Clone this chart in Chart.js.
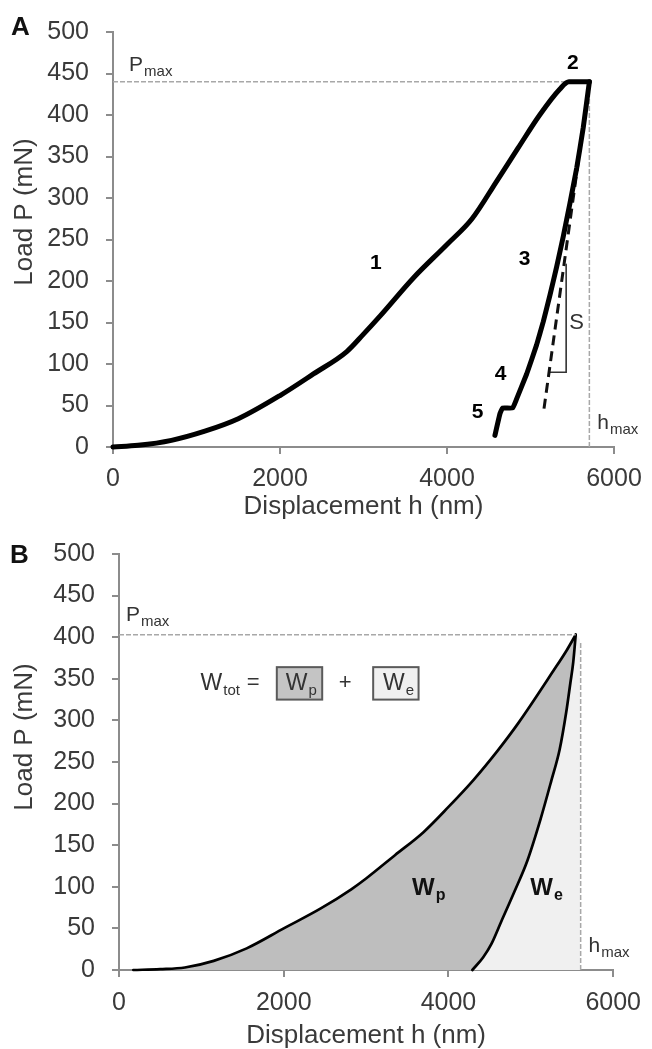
<!DOCTYPE html>
<html>
<head>
<meta charset="utf-8">
<script src="https://cdn.jsdelivr.net/npm/chart.js@4.4.1/dist/chart.umd.min.js"></script>
<style>
html,body{margin:0;padding:0;background:#fff;overflow:hidden;width:652px;height:1049px;}
#wa{position:absolute;left:0;top:0;width:652px;height:530px;}
#wb{position:absolute;left:0;top:520px;width:652px;height:532px;}
</style>
</head>
<body>
<div id="wa"><canvas id="ca"></canvas></div>
<div id="wb"><canvas id="cb"></canvas></div>
<script>
// ---------- DATA ----------
// Panel A: loading / hold / unloading curve
const loadH_A   = [0, 300, 700, 1100, 1500, 2000, 2400, 2800, 3000, 3200, 3600, 4000, 4300, 4600, 4850, 5110, 5350, 5460, 5705];
const loadP_A   = [0, 2, 8, 19, 34, 62, 88, 115, 136, 158, 204, 244, 275, 321, 360, 400, 431, 440, 440];
const unloadH_A = [5705, 5632, 5553, 5473, 5393, 5313, 5233, 5153, 5073, 4954, 4834, 4786, 4666, 4634, 4574];
const unloadP_A = [440, 385, 336, 294, 254, 217, 183, 151, 123, 88, 58, 47, 47, 40, 14];
// tangent (stiffness S) and slope bracket
const tangentH_A = [5705, 5160];
const tangentP_A = [440, 45];
const bracketH_A = [5427, 5427, 5235];
const bracketP_A = [220, 90, 90];
const pmaxA = 440;
const hmaxA = 5705;

// Panel B: loading / unloading curves
const loadH_B   = [174, 500, 800, 1150, 1550, 2000, 2450, 2820, 3000, 3350, 3700, 4000, 4300, 4600, 4850, 5270, 5440, 5545];
const loadP_B   = [0, 1, 3, 11, 26, 50, 74, 97, 110, 138, 166, 196, 228, 264, 297, 359, 385, 403];
const unloadH_B = [5545, 5515, 5480, 5430, 5350, 5250, 5120, 4960, 4800, 4640, 4520, 4420, 4290];
const unloadP_B = [403, 370, 345, 310, 265, 228, 182, 132, 94, 58, 31, 15, 0];
const pmaxB = 403;
const hmaxB = 5605;

// axes
const xTicks = [0, 2000, 4000, 6000];
const yTicks = [0, 50, 100, 150, 200, 250, 300, 350, 400, 450, 500];
const xTitle = 'Displacement h (nm)';
const yTitle = 'Load P (mN)';

// ---------- helpers ----------
const FONT = '"Liberation Sans", Arial, Helvetica, sans-serif';
const TXT = '#3a3a3a';
const AX = '#8c8c8c';
const DASH = '#a8a8a8';
const pts = (hs, ps) => hs.map((h, i) => ({x: h, y: ps[i]}));
const ptsAsc = (hs, ps) => pts(hs, ps).sort((a, b) => a.x - b.x);

const notesPlugin = {
  id: 'notes',
  afterDraw(chart, args, o) {
    const ctx = chart.ctx, xs = chart.scales.x, ys = chart.scales.y;
    const X = v => xs.getPixelForValue(v), Y = v => ys.getPixelForValue(v);
    ctx.save();
    (o.boxes || []).forEach(b => {
      const x1 = X(b.x0), x2 = X(b.x1), y1 = Y(b.y1), y2 = Y(b.y0);
      ctx.fillStyle = b.fill;
      ctx.fillRect(x1, y1, x2 - x1, y2 - y1);
      ctx.strokeStyle = '#5a5a5a';
      ctx.lineWidth = 2;
      ctx.strokeRect(x1, y1, x2 - x1, y2 - y1);
    });
    (o.texts || []).forEach(t => {
      const px = X(t.x), py = Y(t.y);
      ctx.fillStyle = t.color || '#333';
      ctx.font = (t.bold ? 'bold ' : '') + t.size + 'px ' + FONT;
      if (t.sub) {
        ctx.textAlign = 'left';
        ctx.textBaseline = 'alphabetic';
        ctx.fillText(t.text, px, py);
        const w = ctx.measureText(t.text).width;
        ctx.font = (t.bold ? 'bold ' : '') + t.subSize + 'px ' + FONT;
        ctx.fillText(t.sub, px + w + (t.gap || 1), py + t.subDy);
      } else {
        ctx.textAlign = 'center';
        ctx.textBaseline = 'middle';
        ctx.fillText(t.text, px, py);
      }
    });
    // y-axis title
    ctx.save();
    ctx.translate(o.yTitleX, o.yTitleY);
    ctx.rotate(-Math.PI / 2);
    ctx.font = '26px ' + FONT;
    ctx.fillStyle = TXT;
    ctx.textAlign = 'center';
    ctx.textBaseline = 'middle';
    ctx.fillText(yTitle, 0, 0);
    ctx.restore();
    // panel letter
    ctx.font = 'bold 26px ' + FONT;
    ctx.fillStyle = '#111';
    ctx.textAlign = 'left';
    ctx.textBaseline = 'alphabetic';
    ctx.fillText(o.panel, o.panelX, o.panelY);
    ctx.restore();
  }
};

function makeOptions(c) {
  return {
    responsive: true,
    maintainAspectRatio: false,
    animation: false,
    events: [],
    layout: {padding: {left: 0, right: c.padRight, top: c.padTop, bottom: 0}},
    plugins: {legend: {display: false}, tooltip: {enabled: false}, notes: c.notes},
    elements: {point: {radius: 0}, line: {tension: 0, borderJoinStyle: 'round', borderCapStyle: 'round'}},
    scales: {
      x: {
        type: 'linear', min: 0, max: 6000,
        afterBuildTicks: s => { s.ticks = xTicks.map(v => ({value: v})); },
        ticks: {padding: c.xTickPad, color: TXT, font: {family: FONT, size: 25}, maxRotation: 0, callback: v => String(v)},
        grid: {drawOnChartArea: false, drawTicks: true, tickLength: 7, color: AX, lineWidth: 2},
        border: {display: true, color: AX, width: 2},
        title: {display: true, text: xTitle, color: TXT, font: {family: FONT, size: 26}, padding: {top: 0, bottom: c.xTitlePad}},
        afterFit: s => { s.height = c.xHeight; }
      },
      y: {
        type: 'linear', min: 0, max: 500,
        afterBuildTicks: s => { s.ticks = yTicks.map(v => ({value: v})); },
        ticks: {padding: 17, color: TXT, font: {family: FONT, size: 25}, callback: v => String(v)},
        grid: {drawOnChartArea: false, drawTicks: true, tickLength: 7, color: AX, lineWidth: 2},
        border: {display: true, color: AX, width: 2},
        afterFit: s => { s.width = c.yWidth; }
      }
    }
  };
}

// ---------- Chart A ----------
new Chart(document.getElementById('ca'), {
  type: 'scatter',
  plugins: [notesPlugin],
  data: {
    datasets: [
      {data: pts(loadH_A, loadP_A), showLine: true, cubicInterpolationMode: 'monotone', borderColor: '#000', borderWidth: 5, clip: false, order: 1},
      {data: pts(unloadH_A, unloadP_A), showLine: true, borderColor: '#000', borderWidth: 5, tension: 0.1, clip: false, order: 1},
      {data: pts(tangentH_A, tangentP_A), showLine: true, borderColor: '#111', borderWidth: 3, borderDash: [10, 6], borderCapStyle: 'butt', clip: false, order: 2},
      {data: pts(bracketH_A, bracketP_A), showLine: true, borderColor: '#333', borderWidth: 1.6, borderJoinStyle: 'miter', clip: false, order: 2},
      {data: pts([0, hmaxA], [pmaxA, pmaxA]), showLine: true, borderColor: DASH, borderWidth: 1.5, borderDash: [5, 2], borderCapStyle: 'butt', clip: false, order: 3},
      {data: pts([hmaxA, hmaxA], [0, pmaxA]), showLine: true, borderColor: DASH, borderWidth: 1.5, borderDash: [5, 2], borderCapStyle: 'butt', clip: false, order: 3}
    ]
  },
  options: makeOptions({
    padRight: 38, padTop: 31, yWidth: 113, xHeight: 83, xTickPad: 10, xTitlePad: 8,
    notes: {
      panel: 'A', panelX: 11, panelY: 35, yTitleX: 25, yTitleY: 212,
      texts: [
        {text: 'P', sub: 'max', x: 192, y: 453, size: 21, subSize: 15, subDy: 5},
        {text: 'h', sub: 'max', x: 5800, y: 22, size: 21, subSize: 15, subDy: 5},
        {text: '1', x: 3148, y: 221, size: 21, bold: true, color: '#000'},
        {text: '2', x: 5508, y: 463, size: 21, bold: true, color: '#000'},
        {text: '3', x: 4930, y: 226, size: 21, bold: true, color: '#000'},
        {text: '4', x: 4642, y: 88, size: 21, bold: true, color: '#000'},
        {text: '5', x: 4366, y: 42, size: 21, bold: true, color: '#000'},
        {text: 'S', x: 5553, y: 149, size: 22, color: '#333'}
      ]
    }
  })
});

// ---------- Chart B ----------
new Chart(document.getElementById('cb'), {
  type: 'scatter',
  plugins: [notesPlugin],
  data: {
    datasets: [
      {data: pts(loadH_B, loadP_B), showLine: true, cubicInterpolationMode: 'monotone', borderColor: '#000', borderWidth: 2.7, fill: 'origin', backgroundColor: '#bebebe', clip: false, order: 4},
      {data: ptsAsc(unloadH_B, unloadP_B).concat([{x: hmaxB - 5, y: pmaxB - 6}]), showLine: true, cubicInterpolationMode: 'monotone', borderWidth: 0, borderColor: 'rgba(0,0,0,0)', fill: 'origin', backgroundColor: '#f0f0f0', clip: false, order: 3},
      {data: ptsAsc(unloadH_B, unloadP_B), showLine: true, cubicInterpolationMode: 'monotone', borderColor: '#000', borderWidth: 2.7, clip: false, order: 1},
      {data: pts([0, loadH_B[loadH_B.length - 1]], [pmaxB, pmaxB]), showLine: true, borderColor: DASH, borderWidth: 1.5, borderDash: [5, 2], borderCapStyle: 'butt', clip: false, order: 0},
      {data: pts([hmaxB, hmaxB], [0, pmaxB - 8]), showLine: true, borderColor: DASH, borderWidth: 1.5, borderDash: [5, 2], borderCapStyle: 'butt', clip: false, order: 0}
    ]
  },
  options: makeOptions({
    padRight: 32, padTop: 34, yWidth: 119, xHeight: 82, xTickPad: 11, xTitlePad: 1,
    notes: {
      panel: 'B', panelX: 10, panelY: 43, yTitleX: 25, yTitleY: 217,
      boxes: [
        {x0: 1916, x1: 2467, y0: 325, y1: 364, fill: '#c4c4c4'},
        {x0: 3086, x1: 3637, y0: 325, y1: 364, fill: '#f0f0f0'}
      ],
      texts: [
        {text: 'P', sub: 'max', x: 84, y: 419, size: 21, subSize: 15, subDy: 5},
        {text: 'h', sub: 'max', x: 5700, y: 22, size: 21, subSize: 15, subDy: 5},
        {text: 'W', sub: 'tot', x: 990, y: 336.5, size: 23, subSize: 15, subDy: 5},
        {text: '=', x: 1629, y: 345, size: 22},
        {text: 'W', sub: 'p', x: 2024, y: 336.5, size: 23, subSize: 15, subDy: 5},
        {text: '+', x: 2746, y: 345, size: 22},
        {text: 'W', sub: 'e', x: 3206, y: 336.5, size: 23, subSize: 15, subDy: 5},
        {text: 'W', sub: 'p', x: 3557, y: 90, size: 24, subSize: 16, subDy: 5, bold: true, color: '#111'},
        {text: 'W', sub: 'e', x: 4994, y: 90, size: 24, subSize: 16, subDy: 5, bold: true, color: '#111'}
      ]
    }
  })
});
</script>
</body>
</html>
